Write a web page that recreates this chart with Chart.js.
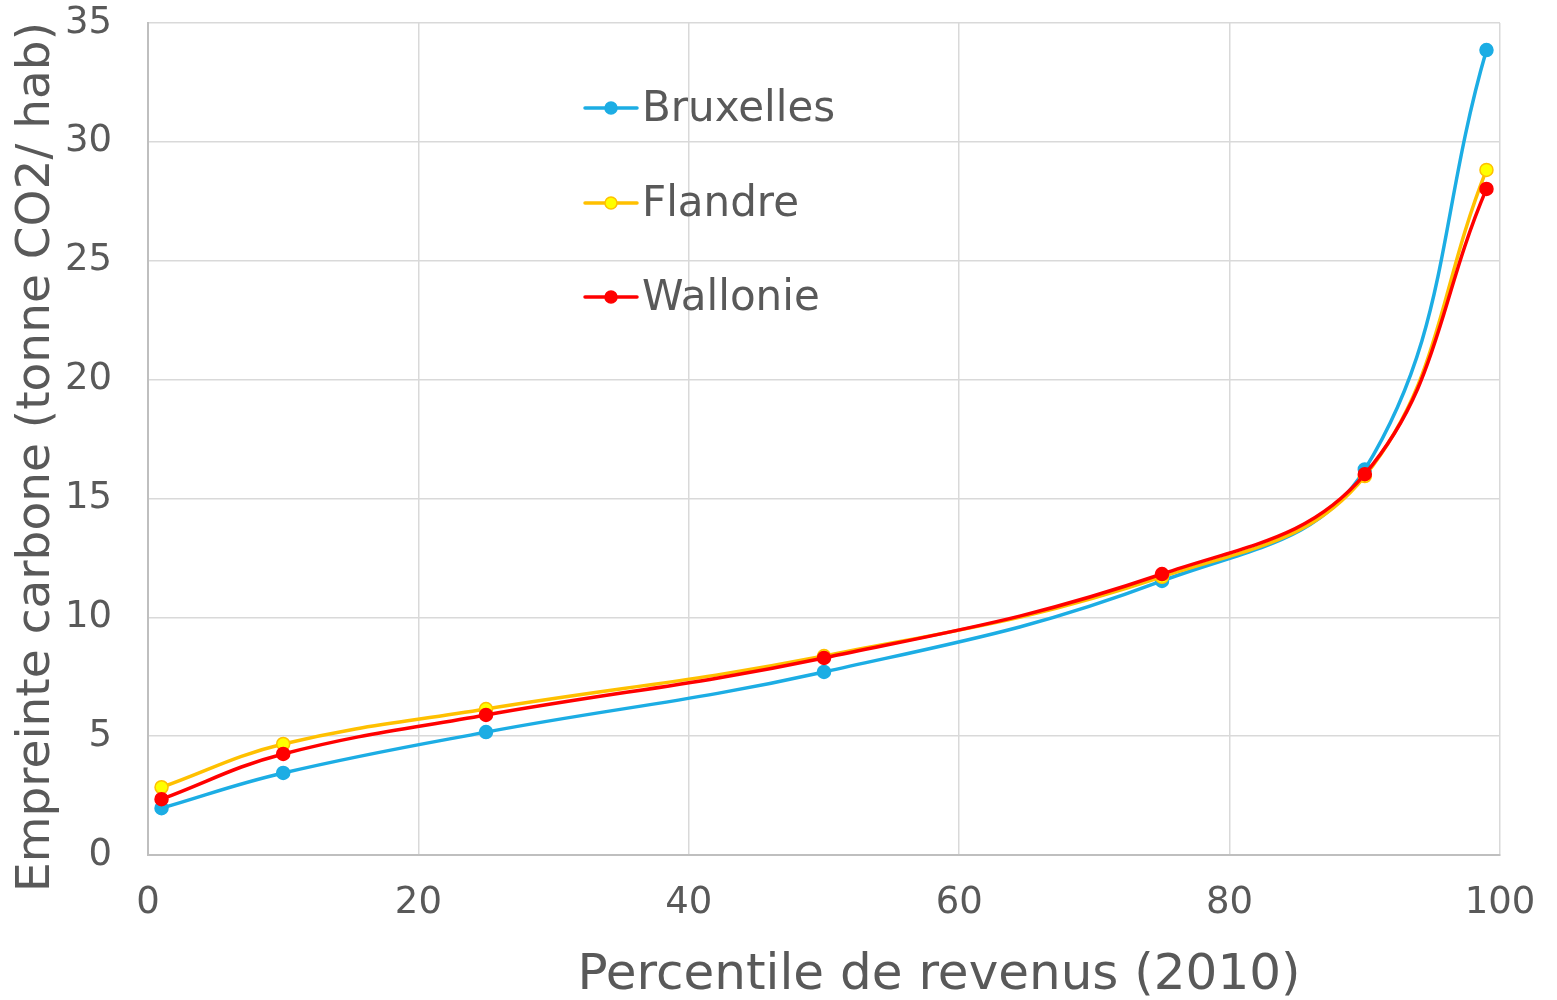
<!DOCTYPE html>
<html>
<head>
<meta charset="utf-8">
<script src="https://cdn.jsdelivr.net/npm/chart.js@4.4.1/dist/chart.umd.min.js"></script>
<style>
  html, body { margin: 0; padding: 0; background: #fff; }
  #wrap { width: 1557px; height: 1000px; }
</style>
</head>
<body>
<div id="wrap"><canvas id="chart" width="1557" height="1000"></canvas></div>
<script>
const percentiles = [1, 10, 25, 50, 75, 90, 99];
const bruxelles = [1.97, 3.45, 5.17, 7.7, 11.53, 16.22, 33.86];
const flandre = [2.85, 4.67, 6.14, 8.37, 11.7, 15.94, 28.82];
const wallonie = [2.35, 4.25, 5.89, 8.29, 11.82, 16.02, 28.02];
const yTicks = [0, 5, 10, 15, 20, 25, 30, 35];
const xTicks = [0, 20, 40, 60, 80, 100];
const xTitle = 'Percentile de revenus (2010)';
const yTitle = 'Empreinte carbone (tonne CO2/ hab)';

const FONT = '"DejaVu Sans", sans-serif';
const TEXT = '#595959';

const toPoints = vals => percentiles.map((p, i) => ({ x: p, y: vals[i] }));

const series = [
    { label: 'Bruxelles', data: bruxelles, line: '#1cade4', fill: '#1cade4', order: 3 },
    { label: 'Flandre', data: flandre, line: '#ffc000', fill: '#ffff00', order: 2 },
    { label: 'Wallonie', data: wallonie, line: '#ff0000', fill: '#ff0000', order: 1 }
];

// legend drawn inside the plot, one row per series, plus both axis titles
// (they sit off the axis centres in the original)
const overlay = {
    id: 'overlay',
    afterDraw(chart) {
        const ctx = chart.ctx;
        const rows = [108, 203, 297];
        ctx.save();
        series.forEach((s, i) => {
            const y = rows[i];
            ctx.strokeStyle = s.line;
            ctx.lineWidth = 3.5;
            ctx.lineCap = 'round';
            ctx.beginPath();
            ctx.moveTo(585, y);
            ctx.lineTo(637, y);
            ctx.stroke();
            ctx.beginPath();
            ctx.arc(611, y, 6, 0, Math.PI * 2);
            ctx.fillStyle = s.fill;
            ctx.fill();
            ctx.lineWidth = 1.5;
            ctx.stroke();
            ctx.fillStyle = TEXT;
            ctx.font = '42px ' + FONT;
            ctx.textAlign = 'left';
            ctx.textBaseline = 'middle';
            ctx.fillText(s.label, 642, y + 2);
        });
        ctx.fillStyle = TEXT;
        ctx.font = '50px ' + FONT;
        ctx.textAlign = 'center';
        ctx.textBaseline = 'alphabetic';
        ctx.fillText(xTitle, 939, 989);

        ctx.font = '47px ' + FONT;
        ctx.translate(49, 457);
        ctx.rotate(-Math.PI / 2);
        ctx.fillText(yTitle, 0, 0);
        ctx.restore();
    }
};

new Chart(document.getElementById('chart'), {
    type: 'line',
    data: {
        datasets: series.map(s => ({
            label: s.label,
            data: toPoints(s.data),
            borderColor: s.line,
            backgroundColor: s.fill,
            pointBackgroundColor: s.fill,
            pointBorderColor: s.line,
            pointBorderWidth: 1.5,
            pointRadius: 6.5,
            borderWidth: 3.5,
            tension: 0.4,
            order: s.order
        }))
    },
    options: {
        responsive: false,
        animation: false,
        layout: { padding: { top: 23, right: 57, left: 0, bottom: 0 } },
        plugins: {
            legend: { display: false },
            tooltip: { enabled: false }
        },
        scales: {
            x: {
                type: 'linear',
                min: 0,
                max: 100,
                afterBuildTicks: axis => { axis.ticks = xTicks.map(v => ({ value: v })); },
                afterFit: axis => { axis.height = 145; axis.paddingLeft = 0; axis.paddingRight = 0; },
                grid: { color: '#d9d9d9', lineWidth: 1.5, drawTicks: false },
                border: { color: '#bfbfbf', width: 2 },
                ticks: { color: TEXT, font: { family: FONT, size: 37 }, padding: 26, maxRotation: 0 },
                title: { display: false }
            },
            y: {
                min: 0,
                max: 35,
                afterBuildTicks: axis => { axis.ticks = yTicks.map(v => ({ value: v })); },
                afterFit: axis => { axis.width = 148; axis.paddingTop = 0; axis.paddingBottom = 0; },
                grid: { color: '#d9d9d9', lineWidth: 1.5, drawTicks: false },
                border: { color: '#bfbfbf', width: 2 },
                ticks: { color: TEXT, font: { family: FONT, size: 37 }, padding: 36 },
                title: { display: false }
            }
        }
    },
    plugins: [overlay]
});
</script>
</body>
</html>
